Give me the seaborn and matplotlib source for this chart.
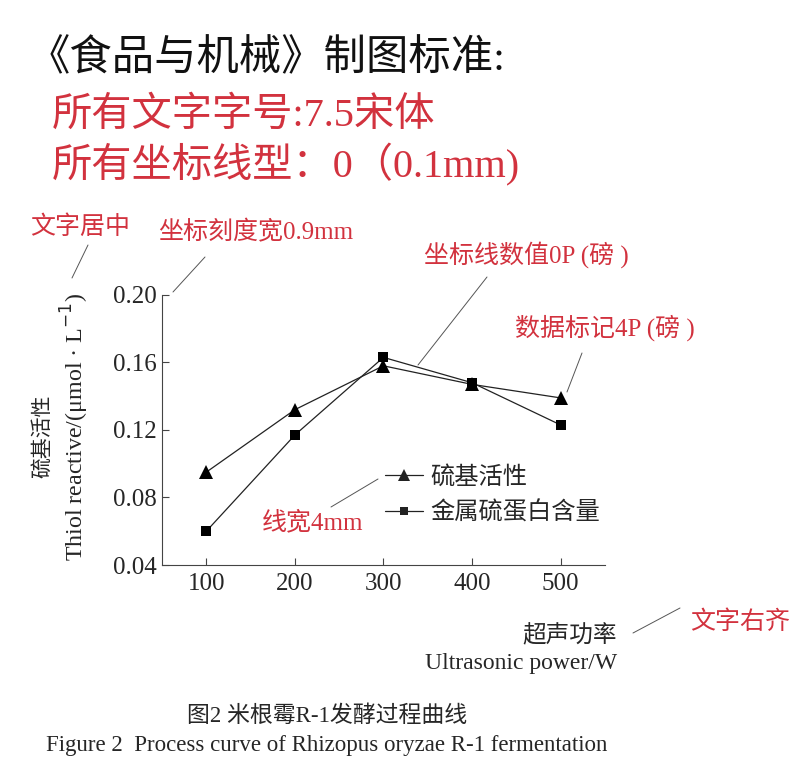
import pandas as pd
import matplotlib
matplotlib.use("Agg")
import matplotlib.pyplot as plt
import seaborn as sns

power = [100, 200, 300, 400, 500]
thiol = [0.095, 0.132, 0.158, 0.147, 0.139]
mt_protein = [0.060, 0.117, 0.163, 0.148, 0.123]
series_names = ["硫基活性", "金属硫蛋白含量"]
y_ticks = [0.04, 0.08, 0.12, 0.16, 0.20]
y_tick_labels = ["0.04", "0.08", "0.12", "0.16", "0.20"]

df = pd.DataFrame({
    "power": power * 2,
    "value": thiol + mt_protein,
    "series": [series_names[0]] * 5 + [series_names[1]] * 5,
})

sns.set_theme(style="ticks")
FONT = ["Liberation Serif", "Noto Sans CJK SC", "DejaVu Sans"]
plt.rcParams["font.family"] = FONT
RED = "#d2323e"
GREY = "#555555"
W, H = 800, 768

fig = plt.figure(figsize=(8, 7.68), dpi=100)
ax = fig.add_axes([0.2025, 0.2643, 0.5535, 0.3517])

sns.lineplot(data=df, x="power", y="value", hue="series", style="series",
             markers={series_names[0]: "^", series_names[1]: "s"},
             dashes=False, palette=["#222222", "#222222"], linewidth=0.9,
             markeredgewidth=0, ax=ax)
# triangle a bit bigger than square, as in the reference
ax.lines[0].set_markersize(10)
ax.lines[1].set_markersize(7.5)
for l in ax.lines[:2]:
    l.set_markerfacecolor("black")

ax.set_xlim(50, 550)
ax.set_ylim(0.04, 0.20)
ax.set_xticks(power)
ax.set_xticklabels([str(p) for p in power], fontsize=18)
ax.set_yticks(y_ticks)
ax.set_yticklabels(y_tick_labels, fontsize=18)
ax.tick_params(direction="in", length=5, width=0.8, color="#444444")
ax.tick_params(axis="y", pad=4)
ax.tick_params(axis="x", pad=6)
for s in ["top", "right"]:
    ax.spines[s].set_visible(False)
for s in ["left", "bottom"]:
    ax.spines[s].set_linewidth(0.8)
    ax.spines[s].set_color("#444444")
ax.set_xlabel("")
ax.set_ylabel("")

leg = ax.legend(frameon=False, fontsize=17.5, loc="upper left",
                bbox_to_anchor=(385 / W, 1 - 466 / H), bbox_transform=fig.transFigure,
                handlelength=1.55, labelspacing=0.5, handletextpad=0.3,
                borderpad=0, borderaxespad=0)
for t in leg.get_texts():
    t.set_family(FONT)
leg.legend_handles[0].set_markersize(8)
leg.legend_handles[1].set_markersize(6)

# y label (two lines, centred)
fig.text(43 / W, 1 - 436 / H, "硫基活性", rotation=90, ha="center", va="center",
         fontsize=15, family=FONT)
fig.text(75 / W, 1 - 427 / H, "Thiol reactive/(μmol · L$^{-1}$)", rotation=90,
         ha="center", va="center", fontsize=17.3, family=FONT)

# x label (right aligned)
fig.text(617 / W, 1 - 636 / H, "超声功率", ha="right", va="center", fontsize=17, family=FONT)
fig.text(617 / W, 1 - 663 / H, "Ultrasonic power/W", ha="right", va="center",
         fontsize=17, family=FONT)

# caption
fig.text(327 / W, 1 - 716 / H, "图2 米根霉R-1发酵过程曲线", ha="center", va="center",
         fontsize=16.5, family=FONT)
fig.text(327 / W, 1 - 745 / H, "Figure 2  Process curve of Rhizopus oryzae R-1 fermentation",
         ha="center", va="center", fontsize=16.5, family=FONT)

# header text
fig.text(0.035, 1 - 60 / H, "《食品与机械》制图标准:", ha="left", va="center",
         fontsize=30.5, family=FONT, color="#111111")
fig.text(0.065, 1 - 116 / H, "所有文字字号:7.5宋体", ha="left", va="center",
         fontsize=29, family=FONT, color=RED)
fig.text(0.065, 1 - 165 / H, "所有坐标线型：0（0.1mm)", ha="left", va="center",
         fontsize=29, family=FONT, color=RED)

# red annotations with leader lines (figure pixel coords)
notes = [
    ("文字居中", (30, 227), (88, 245), (72, 278)),
    ("坐标刻度宽0.9mm", (158, 232), (205, 257), (173, 292)),
    ("坐标线数值0P (磅 )", (424, 255), (487, 277), (418, 365)),
    ("数据标记4P (磅 )", (515, 328), (582, 353), (567, 392)),
    ("线宽4mm", (262, 522), (331, 507), (378, 479)),
    ("文字右齐", (690, 622), (680, 608), (633, 633)),
]
for text, tpos, p0, p1 in notes:
    fig.text(tpos[0] / W, 1 - tpos[1] / H, text, ha="left", va="center",
             fontsize=18, family=FONT, color=RED)
    fig.add_artist(plt.Line2D([p0[0] / W, p1[0] / W],
                              [1 - p0[1] / H, 1 - p1[1] / H],
                              transform=fig.transFigure, color=GREY, lw=0.7))

fig.savefig("out.png", dpi=100)
